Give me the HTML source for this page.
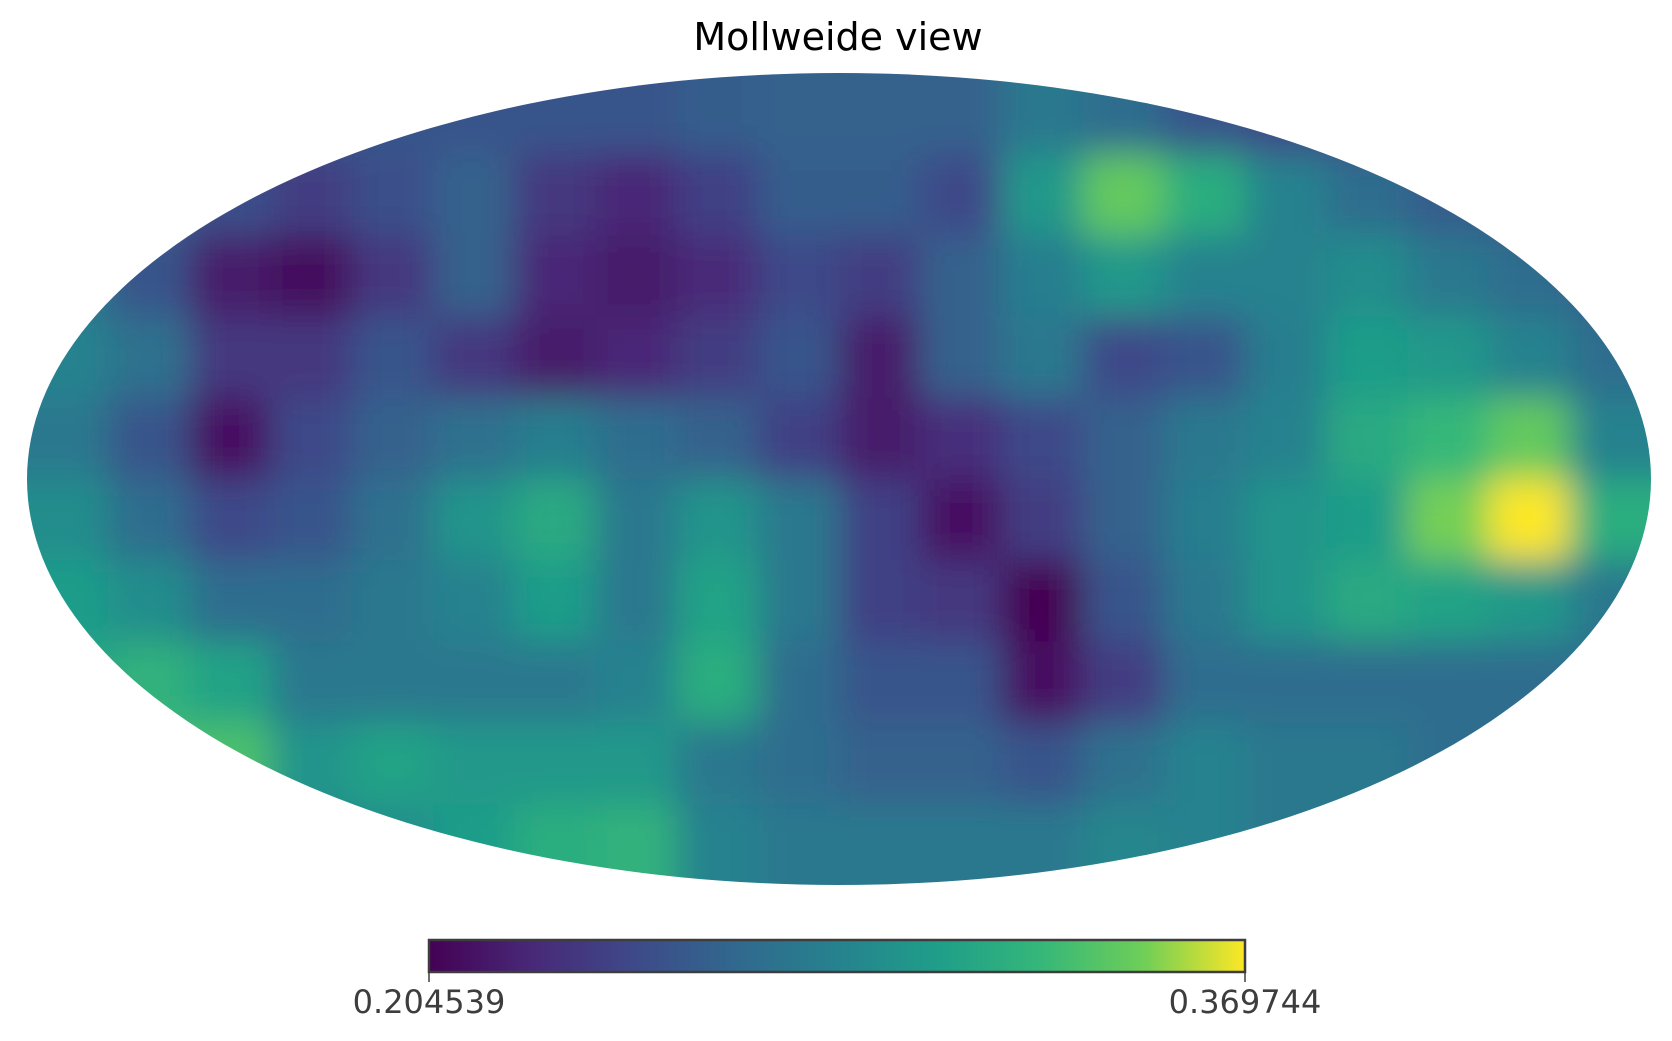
<!DOCTYPE html>
<html><head><meta charset="utf-8"><style>
html,body{margin:0;padding:0;background:#fff;}
svg{display:block;font-family:"DejaVu Sans","Liberation Sans",sans-serif;}
</style></head><body>
<svg id="chart" width="1672" height="1041" viewBox="0 0 1672 1041">
<defs>
<clipPath id="ell"><ellipse cx="839" cy="479" rx="812" ry="406"/></clipPath>
<filter id="blur" x="-5%" y="-5%" width="110%" height="110%"><feGaussianBlur stdDeviation="18"/></filter>
<linearGradient id="vir" x1="0" x2="1" y1="0" y2="0">
<stop offset="0" stop-color="#440154"/><stop offset="0.125" stop-color="#482878"/><stop offset="0.25" stop-color="#3e4989"/><stop offset="0.375" stop-color="#31688e"/><stop offset="0.5" stop-color="#26828e"/><stop offset="0.625" stop-color="#1f9e89"/><stop offset="0.75" stop-color="#35b779"/><stop offset="0.875" stop-color="#6ece58"/><stop offset="1" stop-color="#fde725"/>
</linearGradient>
</defs>
<text x="838" y="50" text-anchor="middle" font-size="38" fill="#000">Mollweide view</text>
<g clip-path="url(#ell)"><g id="cells" filter="url(#blur)"></g></g>
<rect x="429" y="940" width="816" height="32" fill="url(#vir)" stroke="#3d3d3d" stroke-width="2.5"/>
<line x1="429" y1="972" x2="429" y2="982" stroke="#3d3d3d" stroke-width="1.5"/>
<line x1="1245" y1="972" x2="1245" y2="982" stroke="#3d3d3d" stroke-width="1.5"/>
<text x="429" y="1013" text-anchor="middle" font-size="32" fill="#3d3d3d">0.204539</text>
<text x="1245" y="1013" text-anchor="middle" font-size="32" fill="#3d3d3d">0.369744</text>
</svg>
<script>
const rowValues = [
[.3,.3,.3,.3,.3,.3,.3,.3,.33,.35,.35,.35,.45,.4,.3,.25,.25,.25,.25,.25],
[.35,.35,.28,.2,.28,.35,.18,.12,.22,.33,.33,.25,.6,.85,.7,.5,.4,.33,.3,.3],
[.45,.3,.08,.03,.18,.35,.12,.08,.13,.25,.2,.35,.48,.6,.5,.5,.55,.45,.4,.35],
[.5,.42,.18,.18,.3,.18,.08,.12,.2,.3,.08,.35,.45,.25,.3,.48,.62,.6,.5,.4],
[.45,.3,.05,.25,.35,.42,.48,.4,.35,.22,.08,.15,.25,.35,.45,.5,.68,.75,.85,.5],
[.55,.4,.25,.3,.42,.58,.68,.45,.58,.45,.22,.05,.2,.35,.48,.58,.62,.88,1,.7],
[.62,.55,.4,.4,.45,.5,.62,.45,.65,.45,.22,.18,0,.3,.45,.58,.68,.65,.6,.45],
[.65,.72,.65,.45,.45,.45,.45,.5,.7,.4,.3,.3,.05,.2,.4,.4,.4,.4,.4,.4],
[.75,.78,.8,.58,.65,.6,.6,.6,.45,.4,.35,.35,.3,.42,.5,.45,.45,.4,.4,.4],
[.55,.6,.6,.55,.55,.62,.7,.72,.5,.45,.45,.45,.45,.52,.5,.45,.45,.45,.45,.45]
];
const nCols = 20, nRows = 10;
const x0 = 27, x1 = 1651, y0 = 73, y1 = 885;
function xScale(i){return x0 + i*(x1-x0)/nCols;}
function yScale(j){return y0 + j*(y1-y0)/nRows;}
const stops=[[68,1,84],[72,40,120],[62,73,137],[49,104,142],[38,130,142],[31,158,137],[53,183,121],[110,206,88],[253,231,37]];
function viridis(t){t=Math.max(0,Math.min(1,t))*8;const i=Math.min(7,Math.floor(t)),f=t-i;const a=stops[i],b=stops[i+1];return 'rgb('+a.map((v,k)=>Math.round(v+(b[k]-v)*f)).join(',')+')';}
const g=document.getElementById('cells');
const NS='http://www.w3.org/2000/svg';
rowValues.forEach((row,j)=>row.forEach((v,i)=>{
  const r=document.createElementNS(NS,'rect');
  
  
  const xa=i===0?x0-60:xScale(i), xb=i===nCols-1?x1+60:xScale(i+1);
  const ya=j===0?y0-60:yScale(j), yb=j===nRows-1?y1+60:yScale(j+1);
  r.setAttribute('x',xa);r.setAttribute('y',ya);
  r.setAttribute('width',xb-xa+0.5);r.setAttribute('height',yb-ya+0.5);
  r.setAttribute('fill',viridis(v));
  g.appendChild(r);
}));
</script>
</body></html>
